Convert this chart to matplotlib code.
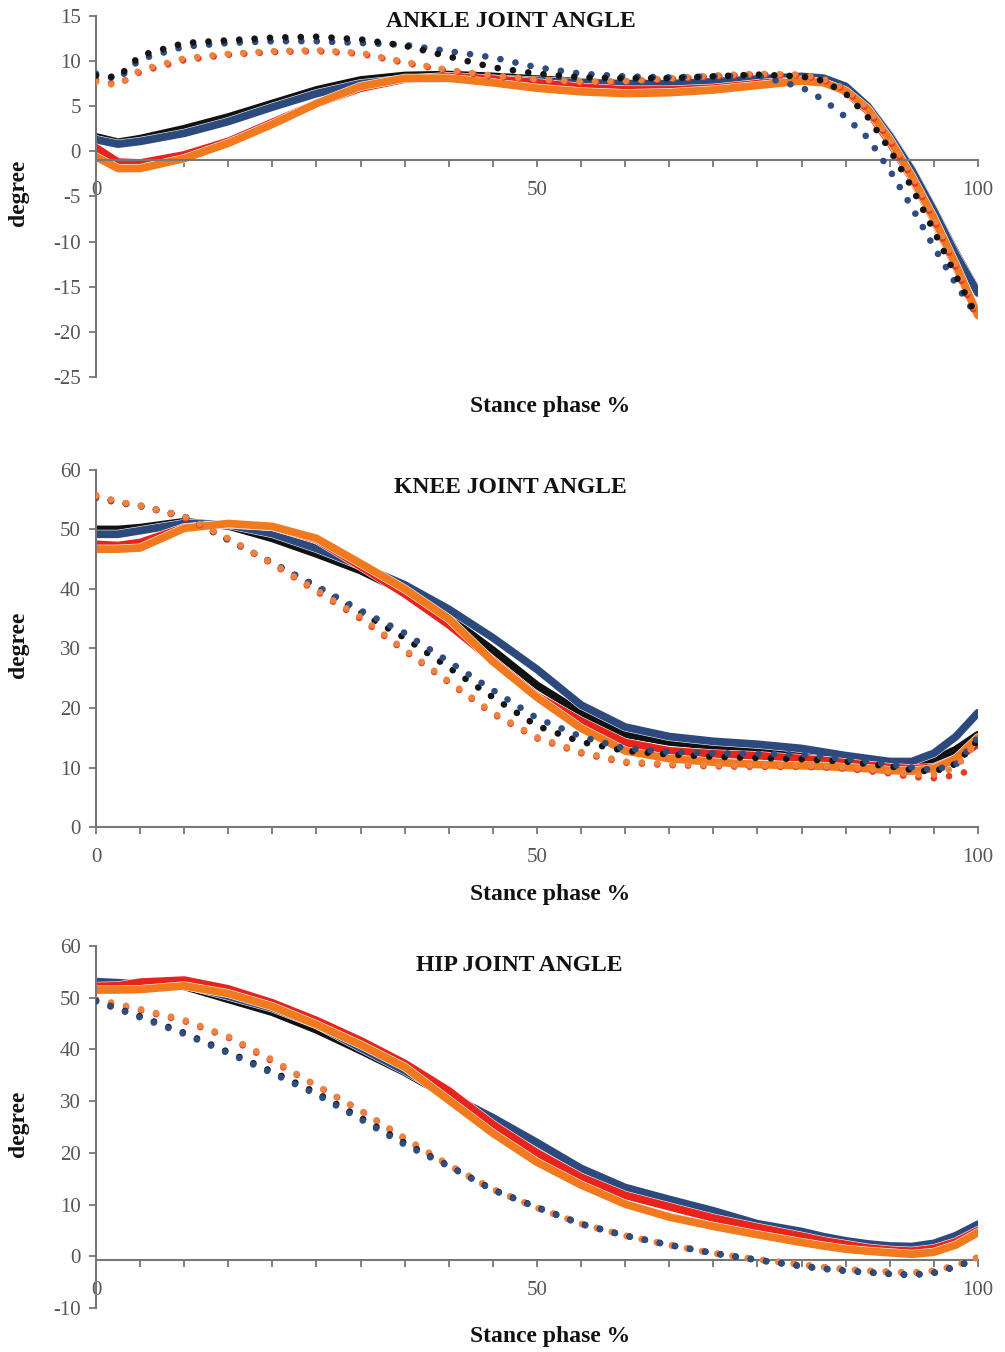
import matplotlib
matplotlib.use("Agg")
import matplotlib.pyplot as plt
import matplotlib.patheffects as pe

# stance phase (%) sample positions
stance = [0, 2.5, 5, 10, 15, 20, 25, 30, 35, 40, 45, 50, 55, 60, 65, 70, 75,
          80, 82.5, 85, 87.5, 90, 92.5, 95, 97.5, 100]

# ---- ANKLE ----
ankle_black = [1.6, 1.0, 1.4, 2.5, 3.8, 5.3, 6.8, 7.9, 8.4, 8.5, 8.3, 8.0, 7.7, 7.4, 7.3, 7.4, 7.8,
               8.2, 8.0, 7.1, 5.0, 1.8, -2.0, -6.5, -11.3, -15.6]
ankle_blue = [1.3, 0.8, 1.1, 2.0, 3.3, 4.9, 6.4, 7.5, 8.0, 8.1, 8.0, 7.8, 7.6, 7.5, 7.5, 7.7, 8.0,
              8.3, 8.1, 7.2, 5.0, 1.7, -2.1, -6.6, -11.5, -15.7]
ankle_red = [0.4, -1.2, -1.3, -0.4, 1.1, 3.2, 5.3, 7.0, 8.0, 8.3, 8.0, 7.6, 7.1, 6.8, 6.8, 7.0, 7.5,
             7.9, 7.6, 6.6, 4.5, 1.0, -3.0, -7.6, -12.8, -18.0]
ankle_orange = [-0.6, -1.9, -1.9, -0.8, 0.9, 3.0, 5.3, 7.2, 8.1, 8.1, 7.6, 7.0, 6.6, 6.4, 6.5, 6.8, 7.3,
                7.8, 7.6, 6.7, 4.7, 1.3, -2.8, -7.4, -12.6, -18.2]
ankle_black_d = [8.4, 8.2, 10.6, 12.0, 12.3, 12.6, 12.7, 12.4, 11.7, 10.5, 9.3, 8.6, 8.2, 8.1, 8.1, 8.3, 8.5,
                 8.3, 7.8, 6.4, 3.8, 0.2, -4.0, -8.8, -13.8, -18.5]
ankle_blue_d = [8.6, 8.0, 10.2, 11.6, 12.0, 12.2, 12.2, 12.0, 11.8, 11.1, 10.4, 9.3, 8.6, 8.3, 8.2, 8.3, 8.4,
                7.1, 5.7, 3.8, 1.5, -2.1, -6.2, -10.6, -14.7, -18.5]
ankle_red_d = [7.9, 7.4, 8.8, 10.1, 10.7, 11.0, 11.1, 10.8, 9.8, 8.9, 8.3, 7.9, 7.6, 7.7, 8.0, 8.3, 8.5,
               8.4, 7.9, 6.8, 4.6, 1.2, -2.9, -7.6, -12.9, -18.8]
ankle_orange_d = [7.7, 7.3, 9.0, 10.3, 10.8, 11.1, 11.2, 10.9, 9.9, 9.0, 8.4, 8.0, 7.7, 7.8, 8.1, 8.4, 8.6,
                  8.5, 8.0, 6.9, 4.8, 1.4, -2.6, -7.3, -12.6, -18.6]

# ---- KNEE ----
knee_black = [50.0, 50.0, 50.3, 51.3, 50.6, 48.5, 45.9, 43.1, 39.5, 35.2, 29.7, 23.8, 19.2, 15.6, 14.3, 13.6, 13.3,
              12.8, 12.3, 11.8, 11.2, 10.8, 10.6, 11.3, 13.0, 15.5]
knee_blue = [49.2, 49.2, 49.8, 51.0, 50.8, 49.3, 46.8, 43.9, 40.7, 36.6, 31.8, 26.5, 20.5, 16.8, 15.2, 14.4, 13.9,
             13.2, 12.6, 12.0, 11.5, 11.0, 11.0, 12.4, 15.2, 19.2]
knee_red = [47.5, 47.3, 47.8, 50.3, 50.9, 50.5, 48.3, 43.8, 39.2, 34.0, 28.0, 22.0, 17.8, 14.2, 12.8, 12.3, 12.0,
            11.5, 11.2, 10.8, 10.4, 10.0, 9.8, 10.0, 11.5, 14.0]
knee_orange = [46.7, 46.7, 46.9, 50.2, 51.0, 50.5, 48.5, 44.3, 40.0, 35.0, 27.8, 21.8, 16.6, 12.8, 11.5, 10.9, 10.5,
               10.3, 10.2, 10.0, 9.8, 9.5, 9.4, 9.8, 11.5, 15.0]
knee_black_d = [55.7, 54.6, 54.0, 52.2, 48.3, 44.4, 40.3, 36.0, 31.8, 26.8, 21.8, 17.0, 14.3, 12.8, 12.2, 11.8, 11.6,
                11.4, 11.2, 11.0, 10.6, 10.2, 9.6, 9.3, 10.6, 14.6]
knee_blue_d = [55.3, 54.5, 53.9, 52.2, 48.2, 44.4, 40.5, 36.4, 32.6, 27.8, 23.0, 18.3, 15.2, 13.2, 12.6, 12.4, 12.3,
               12.2, 11.8, 11.4, 11.0, 10.5, 10.0, 9.6, 10.5, 15.0]
knee_red_d = [55.5, 54.6, 54.0, 52.0, 48.4, 44.2, 39.6, 35.0, 29.6, 24.3, 19.0, 14.9, 12.4, 10.8, 10.4, 10.2, 10.1,
              10.1, 10.0, 9.8, 9.4, 9.0, 8.4, 8.2, 8.7, 10.0]
knee_orange_d = [55.7, 54.7, 54.0, 52.2, 48.5, 44.3, 39.8, 35.3, 29.8, 24.5, 19.2, 15.1, 12.6, 11.0, 10.6, 10.4, 10.3,
                 10.3, 10.2, 10.0, 9.7, 9.3, 8.8, 8.8, 10.0, 14.5]

# ---- HIP ----
hip_black = [53.0, 52.8, 52.8, 52.2, 49.7, 47.2, 43.8, 39.8, 35.6, 30.8, 26.2, 21.4, 16.5, 12.7, 10.3, 8.2, 6.0,
             4.5, 3.6, 2.8, 2.2, 1.8, 1.6, 2.2, 3.6, 5.8]
hip_blue = [53.1, 52.9, 52.6, 52.5, 50.3, 48.0, 44.8, 40.3, 35.9, 31.2, 26.8, 22.0, 17.0, 13.3, 11.0, 8.8, 6.3,
            4.8, 3.8, 3.0, 2.4, 2.0, 1.9, 2.5, 4.0, 6.2]
hip_red = [52.2, 52.3, 53.0, 53.4, 51.7, 49.0, 45.6, 41.7, 37.3, 32.0, 25.5, 20.0, 15.3, 11.8, 9.6, 7.4, 5.6,
           3.9, 3.0, 2.3, 1.6, 1.2, 1.0, 1.5, 2.8, 5.0]
hip_orange = [51.5, 51.5, 51.6, 52.3, 50.8, 48.3, 44.8, 40.9, 36.6, 30.2, 23.8, 18.2, 13.8, 10.1, 7.6, 5.8, 4.2,
              2.7, 2.0, 1.4, 1.0, 0.7, 0.4, 0.8, 2.2, 4.6]
hip_black_d = [49.4, 47.9, 46.4, 43.2, 39.5, 35.7, 31.6, 26.8, 21.9, 17.5, 12.9, 9.5, 6.3, 4.0, 2.2, 0.6, -0.7,
               -1.9, -2.4, -2.8, -3.1, -3.4, -3.6, -3.2, -2.0, -0.4]
hip_blue_d = [49.3, 47.8, 46.2, 43.0, 39.3, 35.4, 31.3, 26.5, 21.6, 17.4, 12.8, 9.4, 6.2, 4.0, 2.2, 0.6, -0.7,
              -1.9, -2.4, -2.8, -3.1, -3.4, -3.6, -3.2, -2.0, -0.4]
hip_red_d = [49.5, 48.6, 47.6, 45.5, 42.3, 37.7, 33.0, 28.2, 22.7, 17.6, 12.9, 9.4, 6.3, 4.0, 2.2, 0.6, -0.6,
             -1.6, -2.1, -2.5, -2.8, -3.0, -3.2, -2.8, -1.8, -0.2]
hip_orange_d = [49.7, 48.8, 47.8, 45.7, 42.5, 38.0, 33.0, 28.2, 22.9, 17.7, 13.0, 9.4, 6.3, 4.0, 2.2, 0.6, -0.6,
                -1.6, -2.1, -2.5, -2.8, -3.0, -3.2, -2.8, -1.8, -0.2]

colors = {"black": "#111111", "blue": "#2c4a7e", "red": "#e8231b", "orange": "#f27a1e"}
dot_colors = {"black": "#151515", "blue": "#2e4d80", "red": "#e53a25", "orange": "#ee8240"}

panels = [
    dict(title="ANKLE JOINT ANGLE", ylim=(-25, 15), yticks=range(-25, 16, 5), axis_at=-1.0,
         solid=[ankle_black, ankle_blue, ankle_red, ankle_orange],
         dotted=[ankle_red_d, ankle_orange_d, ankle_blue_d, ankle_black_d],
         dotted_keys=["red", "orange", "blue", "black"],
         rect=[0.0955, 0.7212, 0.8776, 0.2670],
         title_xy=(0.47, 0.985), xlabel_y=-0.083),
    dict(title="KNEE JOINT ANGLE", ylim=(0, 60), yticks=range(0, 61, 10), axis_at=0,
         solid=[knee_black, knee_blue, knee_red, knee_orange],
         dotted=[knee_black_d, knee_blue_d, knee_red_d, knee_orange_d],
         dotted_keys=["black", "blue", "red", "orange"],
         rect=[0.0955, 0.3883, 0.8776, 0.2641],
         title_xy=(0.47, 0.95), xlabel_y=-0.19),
    dict(title="HIP JOINT ANGLE", ylim=(-10, 60), yticks=range(-10, 61, 10), axis_at=-0.8,
         solid=[hip_black, hip_blue, hip_red, hip_orange],
         dotted=[hip_red_d, hip_orange_d, hip_black_d, hip_blue_d],
         dotted_keys=["red", "orange", "black", "blue"],
         rect=[0.0955, 0.0325, 0.8776, 0.2678],
         title_xy=(0.48, 0.947), xlabel_y=-0.078),
]

plt.rcParams["font.family"] = ["Liberation Serif", "DejaVu Serif"]
plt.rcParams["axes.unicode_minus"] = False

fig = plt.figure(figsize=(10.05, 13.52), dpi=100)

for p in panels:
    ax = fig.add_axes(p["rect"])
    keys = ["black", "blue", "red", "orange"]
    for key, ys in zip(keys, p["solid"]):
        ax.plot(stance, ys, color=colors[key], lw=5.6, solid_capstyle="round",
                solid_joinstyle="round",
                path_effects=[pe.withStroke(linewidth=6.4, foreground="white")], zorder=2)
    for key, ys in zip(p["dotted_keys"], p["dotted"]):
        ax.plot(stance, ys, color=dot_colors[key], lw=4.8, linestyle=(0, (0.01, 2.3)),
                dash_capstyle="round", zorder=3)

    ax.set_xlim(0, 100)
    ax.set_ylim(*p["ylim"])
    ax.spines["top"].set_visible(False)
    ax.spines["right"].set_visible(False)
    ax.spines["bottom"].set_position(("data", p["axis_at"]))
    for s in ("left", "bottom"):
        ax.spines[s].set_color("#777777")
        ax.spines[s].set_linewidth(1.5)

    xt = list(range(0, 101, 5))
    ax.set_xticks(xt)
    ax.set_xticklabels([str(v) if v in (0, 50, 100) else "" for v in xt])
    ax.set_yticks(list(p["yticks"]))
    ax.tick_params(axis="x", direction="out", length=5, width=1.3, color="#777777",
                   pad=10, labelsize=15, labelcolor="#555555")
    ax.tick_params(axis="y", direction="out", length=5, width=1.3, color="#777777",
                   pad=6, labelsize=15, labelcolor="#555555")
    ax.patch.set_visible(False)

    ax.text(p["title_xy"][0], p["title_xy"][1], p["title"], transform=ax.transAxes,
            ha="center", va="center", fontsize=17, fontweight="bold", color="#111111")
    ax.text(0.515, p["xlabel_y"], "Stance phase %", transform=ax.transAxes,
            ha="center", va="center", fontsize=17, fontweight="bold", color="#111111")
    ax.text(-0.088, 0.51, "degree", transform=ax.transAxes, rotation=90,
            ha="center", va="center", fontsize=17, fontweight="bold", color="#111111")

fig.savefig("out.png", dpi=100, facecolor="white")
